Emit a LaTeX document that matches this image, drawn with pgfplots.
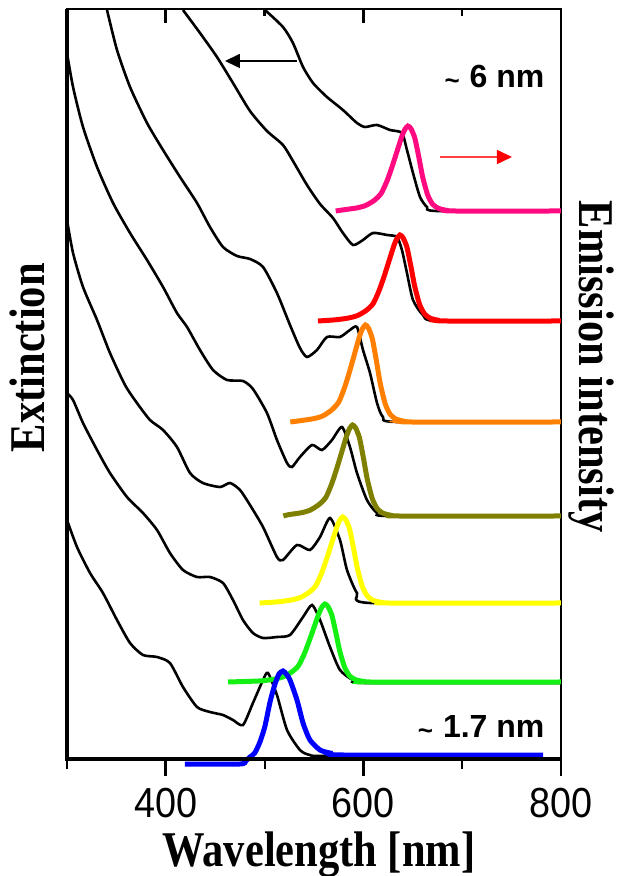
\documentclass[border=0pt]{standalone}
\usepackage{pgfplots}
\pgfplotsset{compat=1.18}
\usepackage{graphicx}
\usepackage{fontspec}
\usetikzlibrary{arrows.meta}
\setmainfont{Liberation Serif}
\newfontfamily\arial{Liberation Sans}

\definecolor{empink}{RGB}{255,10,128}
\definecolor{emred}{RGB}{255,0,0}
\definecolor{emorange}{RGB}{255,128,0}
\definecolor{emolive}{RGB}{128,128,0}
\definecolor{emyellow}{RGB}{255,255,0}
\definecolor{emgreen}{RGB}{20,240,20}
\definecolor{emblue}{RGB}{0,0,255}

\newcommand{\lbl}[1]{\scalebox{0.85}[1]{\fontsize{25}{30}\selectfont\bfseries #1}}
\newcommand{\tlbl}[1]{\mbox{\scalebox{0.9}[1]{\arial\fontsize{21}{21}\selectfont #1}}}
\newcommand{\sizetag}[1]{\arial\bfseries{\fontsize{13}{14}\selectfont\raisebox{-1pt}{\textasciitilde}}\hspace{5pt}\fontsize{16}{18}\selectfont #1}

\begin{document}
\begin{tikzpicture}
\begin{axis}[
    name=main,
    scale only axis,
    width=247pt, height=375pt,
    xmin=300, xmax=800, ymin=0, ymax=750,
    clip=false,
    axis line style={line width=1.4pt},
    xtick={400,600,800},
    minor xtick={300,500,700},
    xticklabels={\tlbl{400},\tlbl{600},\tlbl{800}},
    xtick pos=left,
    tick align=outside,
    major tick length=8.5pt,
    minor tick length=5pt,
    major tick style={line width=1.3pt, black},
    minor tick style={line width=1pt, black},
    ytick=\empty,
    xticklabel style={anchor=north, inner sep=0pt, yshift=-6pt},
    every axis plot/.append style={smooth, tension=0.4},
]
% extinction spectra (black)
\addplot[black, line width=1.3pt] coordinates {
(500.4,749) (518.6,732) (528.7,716) (538.9,692) (549.0,676) (563.1,662)
(579.3,649) (593.5,636) (601.6,632) (613.8,634) (626.9,629) (639.0,626)
(644.1,609) (650.2,586) (657.3,562) (664.4,552) (674.5,548) (800,548)};
\addplot[black, line width=1.3pt] coordinates {
(417.4,749) (434.6,726) (451.8,702) (468.0,676) (485.2,648) (502.4,628)
(518.6,614) (528.7,598) (542.9,574) (556.1,555) (569.2,541) (579.3,526)
(589.5,514) (599.6,519) (609.7,526) (623.9,524) (634.0,522) (639.0,509)
(644.1,486) (650.2,459) (660.3,444) (674.5,438) (800,438)};
\addplot[black, line width=1.3pt] coordinates {
(340.5,749) (350.6,709) (363.8,672) (381.0,636) (397.2,609) (414.4,582)
(431.6,556) (444.7,532) (457.9,512) (472.1,503) (485.2,500) (498.4,492)
(512.5,466) (525.7,434) (535.8,411) (542.9,402) (553.0,409) (563.1,422)
(576.3,422) (586.4,429) (593.5,432) (599.6,409) (606.7,386) (613.8,356)
(619.8,342) (634.0,337) (800,337)};
\addplot[black, line width=1.3pt] coordinates {
(300,706) (306.1,672) (316.2,632) (330.4,592) (346.6,556) (363.8,526)
(381.0,499) (397.2,472) (411.3,446) (421.5,432) (434.6,409) (447.8,389)
(462.0,379) (478.1,378) (488.2,370) (502.4,346) (512.5,319) (522.7,296)
(527.7,292) (535.8,302) (548.0,314) (558.1,309) (568.2,319) (578.3,332)
(586.4,312) (593.5,286) (603.6,259) (613.8,246) (626.9,243) (800,243)};
\addplot[black, line width=1.3pt] coordinates {
(300,539) (306.1,506) (316.2,472) (330.4,439) (343.5,406) (358.7,374)
(370.8,356) (384.0,339) (397.2,329) (411.3,312) (424.5,286) (437.6,276)
(454.9,272) (465.0,276) (475.1,269) (485.2,254) (498.4,232) (512.5,202)
(518.6,199) (532.8,214) (545.9,209) (556.1,222) (566.2,241) (576.3,219)
(583.4,189) (593.5,166) (606.7,156) (800,156)};
\addplot[black, line width=1.3pt] coordinates {
(300,366) (306.1,359) (316.2,336) (330.4,309) (343.5,286) (360.7,262)
(376.9,246) (391.1,229) (404.2,206) (417.4,189) (431.6,182) (444.7,182)
(457.9,176) (468.0,159) (478.1,139) (488.2,126) (498.4,121) (512.5,122)
(525.7,124) (538.9,142) (548.0,154) (556.1,139) (566.2,112) (576.3,89)
(589.5,79) (603.6,76) (800,76)};
\addplot[black, line width=1.3pt] coordinates {
(300,239) (310.1,212) (323.3,186) (336.4,166) (350.6,139) (363.8,116)
(376.9,104) (391.1,102) (404.2,96) (417.4,72) (431.6,52) (444.7,47)
(457.9,44) (468.0,39) (478.1,34) (488.2,56) (498.4,79) (503.4,86)
(512.5,64) (522.7,29) (535.8,9) (545.9,4) (566.2,3) (780,3)};
% emission spectra (coloured)
\addplot[empink, line width=2.5pt] coordinates {
(572,548) (580,549.2) (593,551.0) (602,553.4) (611,558.6) (618,565.6) (624,578.3)
(629,592.2) (634,607.5) (639,622.8) (642,629.6) (645,633) (648,630.5) (652,621.1)
(656,602.4) (660,582) (665,564.2) (670,554.8) (676,550.6) (683,548.9) (691,548) (800,548)};
\addplot[emred, line width=2.5pt] coordinates {
(554,438) (572,439.2) (585,441.0) (594,443.4) (603,448.6) (610,455.6) (616,468.7)
(621,482.7) (626,498.2) (631,513.7) (634,520.6) (637,524) (640,521.4) (644,512)
(648,493) (652,472.4) (657,454.3) (662,444.9) (668,440.6) (675,438.9) (683,438) (800,438)};
\addplot[emorange, line width=2.5pt] coordinates {
(526,337) (537,338.4) (550,340.4) (559,343.1) (568,349.1) (575,356.9) (581,371.6)
(586,387.4) (591,404.9) (596,422.4) (599,430.1) (602,434) (605,431.1) (609,420.4)
(613,399.1) (617,375.8) (622,355.4) (627,344.8) (633,339.9) (640,338) (648,337) (800,337)};
\addplot[emolive, line width=2.5pt] coordinates {
(519,243) (524,244.3) (537,246.2) (546,248.8) (555,254.4) (562,261.6) (568,275.4)
(573,290.3) (578,306.7) (583,323.1) (586,330.4) (589,334) (592,331.3) (596,321.3)
(600,301.2) (604,279.4) (609,260.3) (614,250.3) (620,245.7) (627,243.9) (635,243) (800,243)};
\addplot[emyellow, line width=2.5pt] coordinates {
(495,156) (514,157.2) (527,159.0) (536,161.4) (545,166.6) (552,173.6) (558,186.6)
(563,200.7) (568,216.2) (573,231.7) (576,238.6) (579,242) (582,239.4) (586,230)
(590,211) (594,190.4) (599,172.3) (604,162.9) (610,158.6) (617,156.9) (625,156) (800,156)};
\addplot[emgreen, line width=2.5pt] coordinates {
(463,77) (496,78.1) (509,79.7) (518,81.9) (527,86.7) (534,92.9) (540,104.7)
(545,117.6) (550,131.6) (555,145.6) (558,151.9) (561,155) (564,152.7) (568,144.1)
(572,126.9) (576,108.2) (581,91.8) (586,83.2) (592,79.3) (599,77.8) (607,77) (800,77)};
\addplot[emblue, line width=2.5pt] coordinates {
(419.4,-5) (475,-5) (481,-2) (485.2,2) (490,6) (495.3,17) (500.4,33) (505.5,57)
(510.5,75) (514.6,85) (518.6,88) (522,85) (525.7,79) (532.8,59) (538.9,36)
(545.9,19) (556.1,9) (566.2,6) (580,4) (781.8,4)};
% heavier left and bottom frame, inward ticks on the top edge
\draw[line width=2.3pt] (rel axis cs:0,1) -- (rel axis cs:0,0) -- (rel axis cs:1,0);
\draw[line width=1.4pt] (axis cs:400,750) -- ([yshift=-7pt]axis cs:400,750);
\draw[line width=1.4pt] (axis cs:600,750) -- ([yshift=-7pt]axis cs:600,750);
\draw[line width=1.1pt] (axis cs:500,750) -- ([yshift=-3.5pt]axis cs:500,750);
\draw[line width=1.1pt] (axis cs:700,750) -- ([yshift=-3.5pt]axis cs:700,750);
% annotations
\draw[black, line width=0.8pt, -{Triangle[length=7.5pt,width=7pt]}] (axis cs:532.7,698) -- (axis cs:459.9,698);
\draw[red!75, line width=0.8pt] (axis cs:677.5,602) -- (axis cs:745,602);
\draw[red, line width=0.8pt, -{Triangle[length=7.5pt,width=7pt]}] (axis cs:740,602) -- (axis cs:750.4,602);
\node[anchor=base east, inner sep=0pt] at (axis cs:783.6,671) {\sizetag{6 nm}};
\node[anchor=base east, inner sep=0pt] at (axis cs:783.6,21) {\sizetag{1.7 nm}};
% axis titles
\node[anchor=base, inner sep=0pt] at ([yshift=-53.5pt]axis description cs:0.51,0) {\lbl{Wavelength [nm]}};
\node[anchor=base, inner sep=0pt, rotate=90] at ([xshift=-11pt]axis description cs:0,0.535) {\lbl{Extinction}};
\node[anchor=base, inner sep=0pt, rotate=-90] at ([xshift=9.5pt]axis description cs:1,0.523) {\lbl{Emission intensity}};
\end{axis}
\pgfresetboundingbox
\path[use as bounding box] ([xshift=-33.5pt,yshift=-58.5pt]main.south west) rectangle ([xshift=29pt,yshift=4.5pt]main.north east);
\end{tikzpicture}
\end{document}
